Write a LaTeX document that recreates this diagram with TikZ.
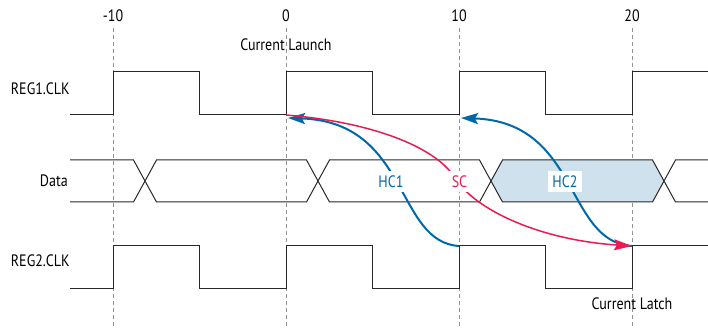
\documentclass[tikz,border=0pt]{standalone}
\usepackage{fontspec}
\setmainfont{PT Sans}[FakeStretch=0.85]
\usetikzlibrary{arrows.meta}
\definecolor{hcblue}{RGB}{0,104,168}
\definecolor{scred}{RGB}{232,28,80}
\definecolor{shadefill}{RGB}{206,225,236}
\definecolor{wave}{RGB}{40,40,40}
\begin{document}
\begin{tikzpicture}[x=1pt,y=-1pt,
  wavel/.style={draw=wave,line width=1pt,line join=miter},
  gridl/.style={draw=gray!85,dash pattern=on 4pt off 3pt,line width=0.8pt},
  lbl/.style={font=\fontsize{16.5}{18}\selectfont,inner sep=0pt,text height=11.5pt,text depth=0pt},
  hcarrow/.style={draw=hcblue,line width=2pt,-{Stealth[length=17pt,width=11pt,inset=3pt]}},
  scarrow/.style={draw=scred,line width=1.5pt,-{Stealth[length=18pt,width=11pt,inset=3pt]}},
  tag/.style={lbl,fill=white,inner xsep=4pt,inner ysep=4.5pt}
]
\useasboundingbox (0,0) rectangle (708,328);
% grid lines
\foreach \x in {113,286,459,632} \draw[gridl] (\x,28) -- (\x,328);
% tick labels
\node[lbl] (tm10) at (113,16) {-10};
\node[lbl] (t0) at (286,16) {0};
\node[lbl] (t10) at (459,16) {10};
\node[lbl] (t20) at (632,16) {20};
\node[lbl] (launchlbl) at (286,45) {Current Launch};
\node[lbl] (latchlbl) at (632,303.5) {Current Latch};
% signal names
\node[lbl,anchor=east] (reg1) at (70,88.5) {REG1.CLK};
\node[lbl,anchor=east] (data) at (68,181) {Data};
\node[lbl,anchor=east] (reg2) at (70,261) {REG2.CLK};
% shaded data window
\fill[shadefill] (491,181) -- (502.5,160) -- (652.5,160) -- (664,181) -- (652.5,202) -- (502.5,202) -- cycle;
% REG1.CLK
\draw[wavel] (70,115) -- (113,115) -- (113,72) -- (199,72) -- (199,115) -- (286,115) -- (286,72) -- (372,72) -- (372,115) -- (459,115) -- (459,72) -- (545,72) -- (545,115) -- (632,115) -- (632,72) -- (708,72);
% REG2.CLK
\draw[wavel] (70,288) -- (113,288) -- (113,246) -- (199,246) -- (199,288) -- (286,288) -- (286,246) -- (372,246) -- (372,288) -- (459,288) -- (459,246) -- (545,246) -- (545,288) -- (632,288) -- (632,246) -- (708,246);
% Data
\draw[wavel] (70,160) -- (133.5,160) -- (156.5,202) -- (306.5,202) -- (329.5,160) -- (479.5,160) -- (502.5,202) -- (652.5,202) -- (675.5,160) -- (708,160);
\draw[wavel] (70,202) -- (133.5,202) -- (156.5,160) -- (306.5,160) -- (329.5,202) -- (479.5,202) -- (502.5,160) -- (652.5,160) -- (675.5,202) -- (708,202);
% key points
\coordinate (launch) at (286,115);
\coordinate (hcatip) at (288,118);
\coordinate (hcbtip) at (461,118);
\coordinate (hcasrc) at (459,246);
\coordinate (latch) at (632,246);
\coordinate (scmid) at (455,178);
% arrows
\draw[hcarrow] (hcasrc) .. controls (395,242) and (410,122) .. (hcatip);
\draw[hcarrow] (latch) .. controls (565,242) and (580,122) .. (hcbtip);
\draw[scarrow] (launch) .. controls (370,122) and (435,146) .. (scmid) .. controls (475,210) and (540,240) .. (latch);
% arrow labels
\node[tag,text=hcblue] (hc1) at (391,181.5) {HC1};
\node[tag,text=scred] (sc) at (459.5,181.5) {SC};
\node[tag,text=hcblue] (hc2) at (565,181.5) {HC2};
\end{tikzpicture}
\end{document}
